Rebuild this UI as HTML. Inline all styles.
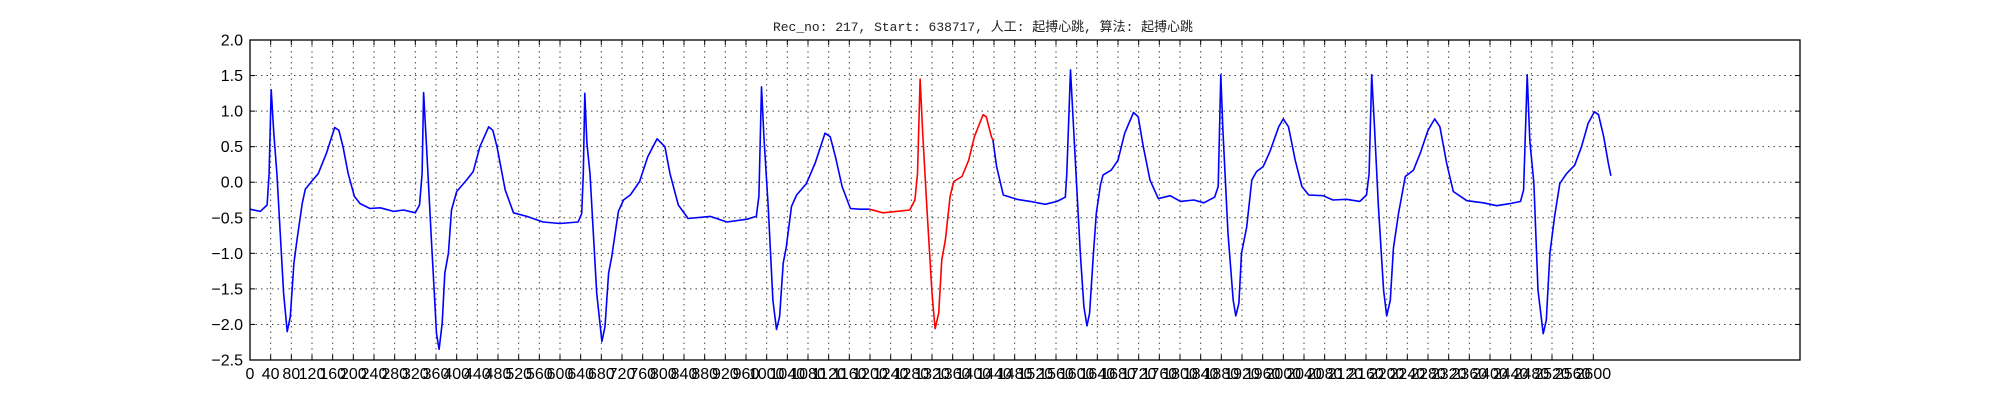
<!DOCTYPE html>
<html><head><meta charset="utf-8"><style>
html,body{margin:0;padding:0;background:#fff;}
svg{display:block;}
</style></head><body>
<svg id="chart" width="2000" height="400" xmlns="http://www.w3.org/2000/svg">
<rect width="2000" height="400" fill="#fff"/>
<text x="773" y="31" font-family="'Liberation Mono','WenQuanYi Zen Hei',monospace" font-size="13" textLength="420" lengthAdjust="spacingAndGlyphs" fill="#222">Rec_no: 217, Start: 638717, 人工: 起搏心跳, 算法: 起搏心跳</text>
<g id="grid"></g><g id="series"></g><g id="axes"></g>
</svg>
<script>
const samples=[0,20,33,37,41,46,52,65,72,78,85,91,101,107,119,132,148,164,172,180,190,202,213,232,252,278,297,320,328,333,336,341,351,361,366,372,377,384,390,400,419,432,445,462,470,478,494,510,536,567,600,635,642,645,648,652,658,671,681,687,694,700,713,723,736,754,770,788,803,813,829,848,891,923,962,980,985,990,995,1003,1012,1019,1025,1032,1038,1048,1058,1077,1094,1113,1123,1133,1146,1162,1180,1199,1225,1251,1277,1287,1292,1297,1302,1310,1320,1326,1333,1339,1346,1355,1362,1378,1391,1402,1419,1425,1435,1438,1445,1458,1484,1510,1539,1562,1578,1581,1588,1597,1607,1614,1620,1625,1632,1638,1646,1651,1667,1680,1693,1710,1719,1729,1742,1758,1781,1801,1827,1846,1867,1874,1879,1883,1893,1903,1908,1914,1919,1929,1939,1948,1961,1974,1991,2000,2010,2023,2036,2049,2077,2096,2122,2148,2161,2166,2171,2176,2184,2194,2200,2207,2213,2223,2236,2252,2265,2280,2293,2303,2316,2329,2355,2387,2413,2439,2459,2465,2472,2477,2485,2493,2503,2509,2516,2525,2535,2548,2564,2577,2590,2602,2610,2620,2629,2634];
const values=[-0.38,-0.41,-0.32,0.12,1.30,0.69,0.12,-1.56,-2.10,-1.89,-1.14,-0.81,-0.30,-0.10,0.01,0.12,0.41,0.77,0.73,0.50,0.12,-0.20,-0.30,-0.37,-0.36,-0.41,-0.39,-0.43,-0.32,0.12,1.26,0.59,-0.81,-2.13,-2.35,-1.98,-1.28,-1.00,-0.39,-0.13,0.03,0.15,0.50,0.78,0.73,0.50,-0.11,-0.43,-0.48,-0.56,-0.58,-0.56,-0.44,0.12,1.25,0.55,0.12,-1.56,-2.24,-2.03,-1.28,-1.05,-0.41,-0.25,-0.18,0.01,0.36,0.61,0.50,0.12,-0.32,-0.51,-0.48,-0.56,-0.52,-0.48,-0.20,1.34,0.59,-0.34,-1.66,-2.07,-1.89,-1.14,-0.91,-0.34,-0.18,-0.02,0.27,0.69,0.64,0.36,-0.06,-0.37,-0.38,-0.38,-0.43,-0.41,-0.39,-0.25,0.12,1.45,0.69,-0.34,-1.56,-2.06,-1.84,-1.09,-0.81,-0.20,0.01,0.08,0.31,0.64,0.95,0.92,0.64,0.59,0.22,-0.18,-0.24,-0.27,-0.31,-0.27,-0.21,0.12,1.58,0.36,-1.00,-1.75,-2.02,-1.84,-1.05,-0.44,-0.04,0.10,0.17,0.31,0.69,0.98,0.92,0.50,0.03,-0.23,-0.19,-0.27,-0.25,-0.29,-0.21,-0.06,1.51,0.73,-0.72,-1.66,-1.88,-1.70,-1.00,-0.63,0.03,0.15,0.22,0.43,0.78,0.89,0.78,0.31,-0.06,-0.18,-0.19,-0.25,-0.24,-0.27,-0.18,0.12,1.51,0.83,-0.34,-1.52,-1.88,-1.66,-0.93,-0.44,0.08,0.17,0.41,0.73,0.89,0.78,0.27,-0.13,-0.26,-0.29,-0.33,-0.30,-0.27,-0.11,1.51,0.59,-0.02,-1.52,-2.13,-1.94,-1.00,-0.48,-0.02,0.12,0.24,0.50,0.83,0.99,0.95,0.64,0.27,0.09];
const redRange=[1199,1438];
const yTicks=[-2.5,-2.0,-1.5,-1.0,-0.5,0.0,0.5,1.0,1.5,2.0];
const xTickStep=40, xTickMax=2600, xMax=3000;
const L=250,R=1800,T=40,B=360;
const sx=s=>L+(s/xMax)*(R-L);
const sy=v=>T+(2.0-v)/(4.5)*(B-T);
const NS='http://www.w3.org/2000/svg';
function mk(tag,attrs,parent){const e=document.createElementNS(NS,tag);for(const k in attrs)e.setAttribute(k,attrs[k]);parent.appendChild(e);return e;}
const grid=document.getElementById('grid'),series=document.getElementById('series'),axes=document.getElementById('axes');
const xTicks=[];for(let t=0;t<=xTickMax;t+=xTickStep)xTicks.push(t);
xTicks.forEach(t=>{
  const x=sx(t);
  const g=mk('line',{x1:x,x2:x,y1:T,y2:B,stroke:'#444','stroke-width':1,'stroke-dasharray':'1.5,4'},grid);
  
  
  mk('line',{x1:x,x2:x,y1:B,y2:B-5,stroke:'#000','stroke-width':1},axes);
  mk('line',{x1:x,x2:x,y1:T,y2:T+5,stroke:'#000','stroke-width':1},axes);
  const lb=mk('text',{x:x,y:B+19,'text-anchor':'middle','font-family':'Liberation Sans, DejaVu Sans, sans-serif','font-size':16,fill:'#000'},axes);
  lb.textContent=String(t);
  
  
});
yTicks.forEach(v=>{
  const y=sy(v);
  const g=mk('line',{x1:L,x2:R,y1:y,y2:y,stroke:'#444','stroke-width':1,'stroke-dasharray':'1.5,4'},grid);
  
  
  mk('line',{x1:L,x2:L+5,y1:y,y2:y,stroke:'#000'},axes);
  mk('line',{x1:R,x2:R-5,y1:y,y2:y,stroke:'#000'},axes);
  const lb=mk('text',{x:L-7,y:y+5.5,'text-anchor':'end','font-family':'Liberation Sans, DejaVu Sans, sans-serif','font-size':16,fill:'#000'},axes);
  lb.textContent=(v<0?'\u2212':'')+Math.abs(v).toFixed(1);
  
  
});
const fr=mk('rect',{x:L,y:T,width:R-L,height:B-T,fill:'none',stroke:'#000','stroke-width':1.3},axes);


function pts(f){return samples.map((s,i)=>[s,values[i]]).filter(p=>f(p[0])).map(p=>sx(p[0]).toFixed(1)+','+sy(p[1]).toFixed(1)).join(' ');}
const b1=mk('polyline',{points:pts(s=>s<=redRange[0]),fill:'none',stroke:'#0000ff','stroke-width':1.6,'stroke-linejoin':'round'},series);


const rd=mk('polyline',{points:pts(s=>s>=redRange[0]&&s<=redRange[1]),fill:'none',stroke:'#ff0000','stroke-width':1.6,'stroke-linejoin':'round'},series);


const b2=mk('polyline',{points:pts(s=>s>=redRange[1]),fill:'none',stroke:'#0000ff','stroke-width':1.6,'stroke-linejoin':'round'},series);


</script>
</body></html>
